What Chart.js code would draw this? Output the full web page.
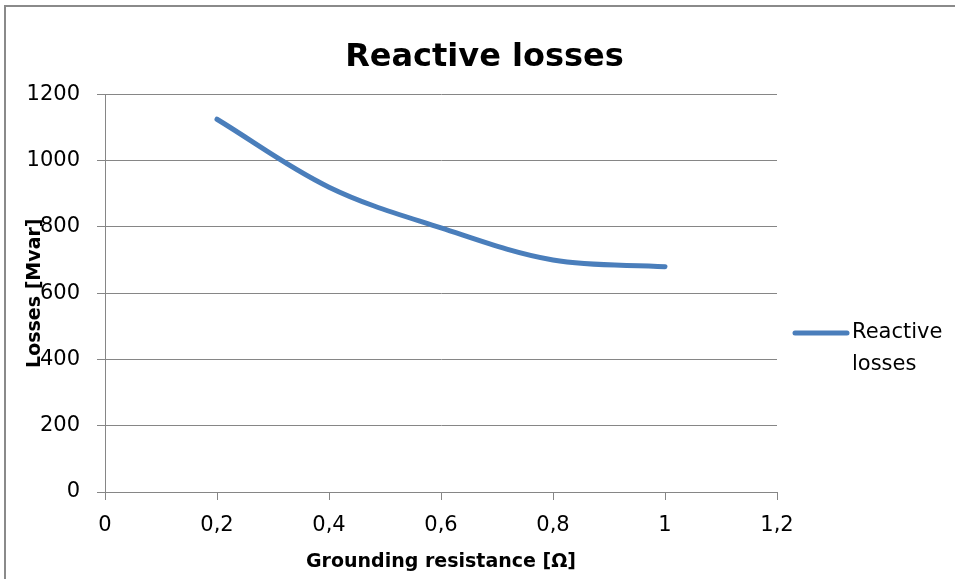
<!DOCTYPE html>
<html lang="en">
<head>
  <meta charset="UTF-8">
  <title>Reactive losses</title>
  <script src="https://cdn.jsdelivr.net/npm/chart.js"></script>
  <style>
    body { margin: 0; background: #fff; }
    #wrap { position: relative; width: 955px; height: 579px; overflow: hidden; }
    #frame {
      position: absolute; left: 4px; top: 5px; width: 960px; height: 590px;
      border-left: 2px solid #8a8a8a; border-top: 2px solid #8a8a8a;
    }
    canvas { position: absolute; left: 0; top: 0; }
  </style>
</head>
<body>
  <div id="wrap">
    <div id="frame"></div>
    <canvas id="lossChart" width="955" height="579"></canvas>
  </div>

  <script>
    // data
    const resistance = [0.2, 0.4, 0.6, 0.8, 1.0];
    const reactiveLosses = [1125, 920, 797, 700, 680];
    const xTickLabels = ['0', '0,2', '0,4', '0,6', '0,8', '1', '1,2'];
    const yTickLabels = ['0', '200', '400', '600', '800', '1000', '1200'];

    const gray = '#868686';
    const blue = '#4a7ebb';
    const font = 'DejaVu Sans';

    // legend drawn by hand so the label can wrap on two lines like Excel does
    const sideLegend = {
      id: 'sideLegend',
      afterDraw(chart) {
        const ctx = chart.ctx;
        const area = chart.chartArea;
        const ds = chart.data.datasets[0];
        const x0 = area.right + 16;
        const y0 = 333;
        ctx.save();
        ctx.strokeStyle = ds.borderColor;
        ctx.lineWidth = 5;
        ctx.lineCap = 'round';
        ctx.beginPath();
        ctx.moveTo(x0 + 2, y0);
        ctx.lineTo(x0 + 54, y0);
        ctx.stroke();
        ctx.fillStyle = '#000';
        ctx.font = '21px "' + font + '"';
        ctx.textBaseline = 'middle';
        ds.label.split(' ').forEach((word, i) => {
          ctx.fillText(word, x0 + 59, y0 + i * 32);
        });
        ctx.restore();
      }
    };

    new Chart(document.getElementById('lossChart'), {
      type: 'scatter',
      data: {
        datasets: [{
          label: 'Reactive losses',
          data: resistance.map((r, i) => ({ x: r, y: reactiveLosses[i] })),
          showLine: true,
          borderColor: blue,
          backgroundColor: blue,
          borderWidth: 5,
          borderCapStyle: 'round',
          tension: 0.35,
          pointRadius: 0
        }]
      },
      options: {
        responsive: false,
        animation: false,
        layout: { padding: { left: 14, right: 0, top: 0, bottom: 0 } },
        plugins: {
          legend: { display: false },
          tooltip: { enabled: false },
          title: {
            display: true,
            text: 'Reactive losses',
            color: '#000',
            font: { family: font, size: 32, weight: 'bold', lineHeight: 1.2 },
            padding: { top: 38, bottom: 18 }
          }
        },
        scales: {
          x: {
            type: 'linear',
            min: 0,
            max: 1.2,
            afterFit: s => { s.height = 87; },
            afterBuildTicks: s => {
              s.ticks = xTickLabels.map((t, i) => ({ value: i * 0.2 }));
            },
            ticks: {
              color: '#000',
              font: { family: font, size: 21 },
              padding: 13,
              callback: (v, i) => xTickLabels[i]
            },
            grid: { drawOnChartArea: false, drawTicks: true, tickLength: 8, color: gray },
            border: { display: true, color: gray, width: 1 },
            title: {
              display: true,
              text: 'Grounding resistance [Ω]',
              color: '#000',
              font: { family: font, size: 19, weight: 'bold', lineHeight: 1.2 },
              padding: { top: 0, bottom: 6 }
            }
          },
          y: {
            min: 0,
            max: 1200,
            afterFit: s => { s.width = 91; },
            ticks: {
              stepSize: 200,
              color: '#000',
              font: { family: font, size: 21 },
              padding: 17,
              callback: (v, i) => yTickLabels[i]
            },
            grid: { drawTicks: true, tickLength: 8, color: gray },
            border: { display: true, color: gray, width: 1 },
            title: {
              display: true,
              text: 'Losses [Mvar]',
              color: '#000',
              font: { family: font, size: 19, weight: 'bold', lineHeight: 1.2 },
              padding: { top: 10, bottom: 0 }
            }
          },
          // empty scale on the right only keeps room for the legend
          side: {
            position: 'right',
            display: true,
            afterFit: s => { s.width = 178; },
            ticks: { display: false },
            grid: { display: false },
            border: { display: false }
          }
        }
      },
      plugins: [sideLegend]
    });
  </script>
</body>
</html>
